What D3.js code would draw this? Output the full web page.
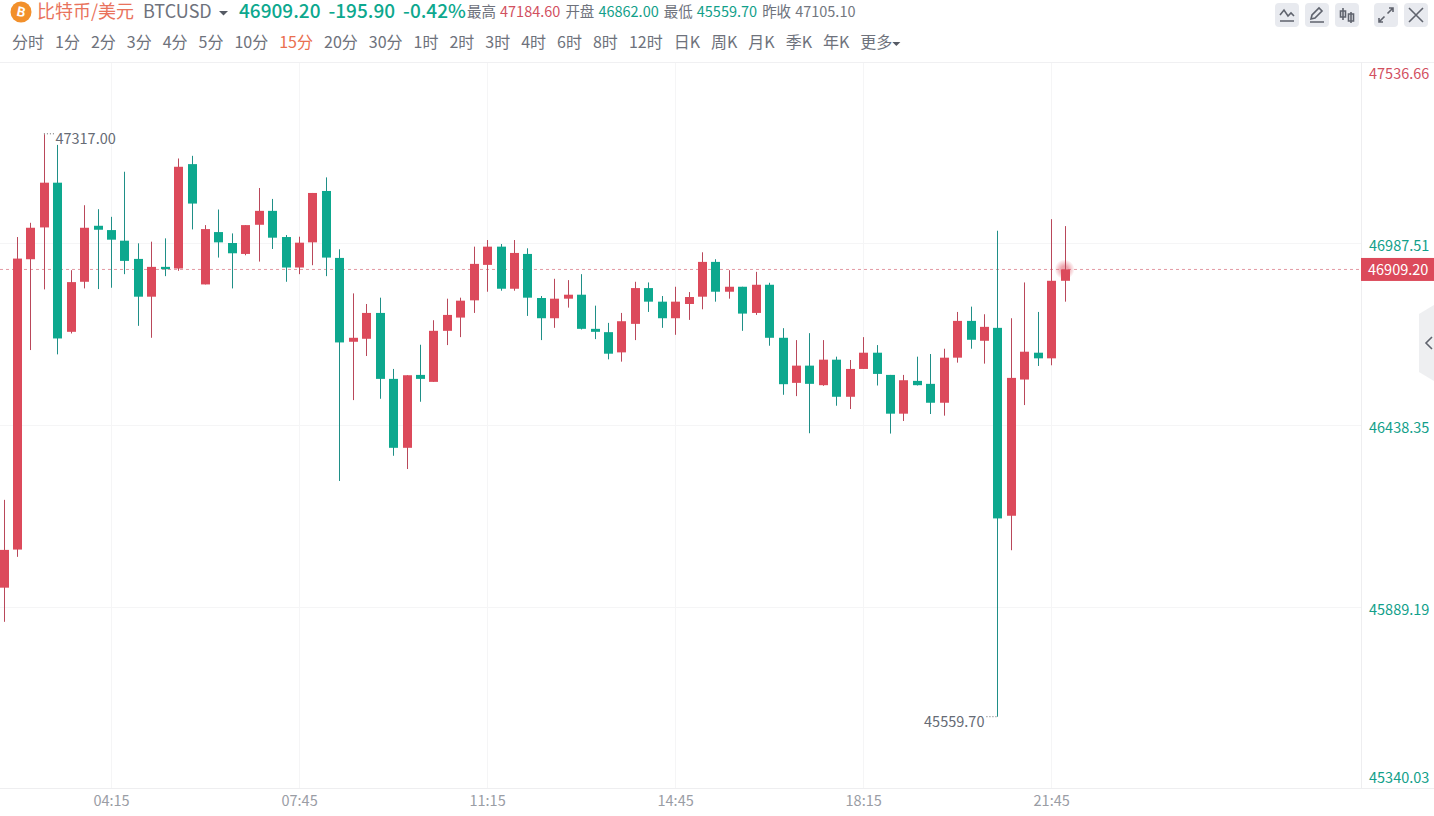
<!DOCTYPE html>
<html>
<head>
<meta charset="utf-8">
<title>BTCUSD</title>
<script src="https://cdn.jsdelivr.net/npm/d3@7"></script>
<style>
html, body { margin: 0; padding: 0; background: #fff; overflow: hidden; }
svg { display: block; }
text { font-family: "Noto Sans CJK SC", "Noto Sans", sans-serif; }
</style>
</head>
<body>
<svg id="chart" width="1434" height="816"></svg>
<script>
// -----------------------------------------------------------------------
// Data
// -----------------------------------------------------------------------
var times = [
    "02:15","02:30","02:45","03:00","03:15","03:30","03:45","04:00","04:15","04:30",
    "04:45","05:00","05:15","05:30","05:45","06:00","06:15","06:30","06:45","07:00",
    "07:15","07:30","07:45","08:00","08:15","08:30","08:45","09:00","09:15","09:30",
    "09:45","10:00","10:15","10:30","10:45","11:00","11:15","11:30","11:45","12:00",
    "12:15","12:30","12:45","13:00","13:15","13:30","13:45","14:00","14:15","14:30",
    "14:45","15:00","15:15","15:30","15:45","16:00","16:15","16:30","16:45","17:00",
    "17:15","17:30","17:45","18:00","18:15","18:30","18:45","19:00","19:15","19:30",
    "19:45","20:00","20:15","20:30","20:45","21:00","21:15","21:30","21:45","22:00"
];
var opens = [
    45949,46064,46940,47036,47171,46721,46872,47041,47028,46996,
    46941,46827,46917,46912,47227,46864,47022,46989,46956,47044,
    47086,47007,46915,46991,47146,46944,46691,46700,46778,46579,
    46371,46591,46570,46724,46764,46816,46923,46978,46851,46956,
    46823,46762,46821,46833,46730,46720,46659,46745,46853,46812,
    46762,46805,46827,46932,46842,46857,46778,46863,46703,46567,
    46619,46560,46637,46525,46609,46658,46591,46474,46573,46564,
    46507,46643,46754,46694,46733,46166,46577,46658,46641,46875
];
var highs = [
    46214,47007,47050,47317,47285,46907,47103,47091,47068,47204,
    46988,46993,47003,47244,47252,47043,47090,47018,47043,47155,
    47122,47013,47008,47140,47187,46970,46837,46805,46824,46609,
    46590,46682,46756,46821,46824,46978,46998,46986,46998,46973,
    46829,46881,46877,46895,46800,46748,46778,46872,46870,46829,
    46857,46841,46961,46940,46907,46857,46902,46869,46732,46696,
    46717,46696,46646,46636,46705,46681,46591,46591,46646,46654,
    46670,46781,46797,46774,47026,46762,46870,46781,47061,47040
];
var lows = [
    45846,46042,46666,46849,46653,46716,46852,46850,46854,46895,
    46739,46703,46889,46905,47030,46864,46945,46852,46952,46933,
    46971,46872,46895,46922,46889,46271,46515,46648,46519,46347,
    46307,46510,46570,46681,46705,46778,46842,46845,46845,46769,
    46696,46733,46794,46728,46699,46638,46631,46696,46781,46733,
    46712,46757,46789,46812,46821,46724,46772,46679,46531,46527,
    46415,46558,46498,46488,46609,46559,46414,46452,46559,46473,
    46468,46628,46670,46625,45559.7,46062,46500,46618,46620,46812
];
var closes = [
    46063,46942,47035,47171,46701,46871,47035,47029,46999,46935,
    46827,46917,46910,47219,47108,47031,46991,46958,47043,47086,
    47005,46915,46990,47140,46945,46689,46703,46778,46579,46371,
    46590,46579,46724,46772,46815,46926,46978,46851,46959,46824,
    46762,46821,46833,46730,46721,46655,46753,46853,46812,46762,
    46812,46826,46932,46842,46857,46776,46863,46703,46563,46619,
    46564,46637,46525,46609,46658,46594,46474,46575,46560,46507,
    46643,46754,46697,46736,46158,46582,46661,46641,46875,46909.2
];

var xTickLabels = ["04:15", "07:45", "11:15", "14:45", "18:15", "21:45"];
var yTickValues = [47536.66, 46987.51, 46438.35, 45889.19, 45340.03];
var lastPrice = 46909.20;
var highMark = 47317.00;
var lowMark = 45559.70;

var periods = ["分时","1分","2分","3分","4分","5分","10分","15分","20分","30分","1时","2时",
               "3时","4时","6时","8时","12时","日K","周K","月K","季K","年K","更多"];
var activePeriod = "15分";
var quoteValues = ["46909.20", "-195.90", "-0.42%"];
var statLabels = ["最高", "开盘", "最低", "昨收"];
var statValues = ["47184.60", "46862.00", "45559.70", "47105.10"];

// -----------------------------------------------------------------------
// Colors + layout
// -----------------------------------------------------------------------
var RED = "#dc4a5b", GREEN = "#0da88e";
var RED_WICK = "#b9485a", GREEN_WICK = "#1f8f87";
var GRID = "#f5f5f6", TEXT_GRAY = "#666b75", AXIS_GRAY = "#9a9da5";

var plotTop = 62, plotBottom = 788, axisX = 1361;

var svg = d3.select("#chart");

var x = d3.scalePoint().domain(times).range([3.6, 1064.6]);
var y = d3.scaleLinear().domain([45340.03, 47536.66]).range([789.5, 61.5]);

// -----------------------------------------------------------------------
// Grid + frame
// -----------------------------------------------------------------------
svg.append("g").selectAll("line").data(yTickValues.slice(1, 4)).enter().append("line")
    .attr("x1", 0).attr("x2", axisX)
    .attr("y1", function(d) { return Math.round(y(d)) + 0.5; })
    .attr("y2", function(d) { return Math.round(y(d)) + 0.5; })
    .attr("stroke", GRID);

svg.append("g").selectAll("line").data(xTickLabels).enter().append("line")
    .attr("x1", function(d) { return Math.round(x(d)) + 0.5; })
    .attr("x2", function(d) { return Math.round(x(d)) + 0.5; })
    .attr("y1", plotTop).attr("y2", plotBottom)
    .attr("stroke", GRID);

svg.append("line").attr("x1", 0).attr("x2", 1434).attr("y1", plotTop + 0.5).attr("y2", plotTop + 0.5).attr("stroke", "#f0f0f2");
svg.append("line").attr("x1", 0).attr("x2", 1434).attr("y1", plotBottom + 0.5).attr("y2", plotBottom + 0.5).attr("stroke", "#eeeef0");
svg.append("line").attr("x1", axisX + 0.5).attr("x2", axisX + 0.5).attr("y1", plotTop).attr("y2", plotBottom).attr("stroke", "#eeeef0");

// -----------------------------------------------------------------------
// Axes
// -----------------------------------------------------------------------
var xAxis = d3.axisBottom(x).tickValues(xTickLabels).tickSize(0).tickPadding(0);
var xg = svg.append("g").attr("transform", "translate(0," + plotBottom + ")").call(xAxis);
xg.select(".domain").remove();
xg.selectAll("text")
    .attr("y", 18).attr("dy", 0)
    .style("font-family", '"Noto Sans CJK SC", sans-serif')
    .style("font-size", "14.5px")
    .attr("fill", AXIS_GRAY);

var yAxis = d3.axisRight(y).tickValues(yTickValues).tickSize(0)
    .tickFormat(function(d) { return d.toFixed(2); });
var yg = svg.append("g").attr("transform", "translate(" + (axisX + 8) + ",0)").call(yAxis);
yg.select(".domain").remove();
yg.selectAll("text")
    .attr("x", 0)
    .attr("dy", function(d, i) {
        // the outer labels are pushed inside the plot
        if (i == 0) return 16.5;
        if (i == yTickValues.length - 1) return -7;
        return 7.5;
    })
    .style("font-family", '"Noto Sans CJK SC", sans-serif')
    .style("font-size", "14.5px")
    .attr("fill", function(d) { return d > lastPrice + 100 ? "#d2505f" : "#12a08a"; });

// -----------------------------------------------------------------------
// Last price line + tag
// -----------------------------------------------------------------------
svg.append("line")
    .attr("x1", 0).attr("x2", axisX)
    .attr("y1", y(lastPrice)).attr("y2", y(lastPrice))
    .attr("stroke", "#e39aa3").attr("stroke-dasharray", "3,3");

var glow = svg.append("defs").append("radialGradient").attr("id", "glow");
glow.append("stop").attr("offset", "35%").attr("stop-color", RED).attr("stop-opacity", 0.5);
glow.append("stop").attr("offset", "100%").attr("stop-color", RED).attr("stop-opacity", 0);
svg.append("circle")
    .attr("cx", x(times[times.length - 1]))
    .attr("cy", y(lastPrice))
    .attr("r", 10).attr("fill", "url(#glow)");

svg.append("rect")
    .attr("x", axisX).attr("y", y(lastPrice) - 11.5)
    .attr("width", 1434 - axisX).attr("height", 23)
    .attr("fill", RED);
svg.append("text")
    .attr("x", axisX + 7).attr("y", y(lastPrice) + 5.5)
    .attr("fill", "#fff").style("font-size", "14.5px")
    .text(lastPrice.toFixed(2));

// -----------------------------------------------------------------------
// Candles
// -----------------------------------------------------------------------
var candles = svg.append("g").selectAll("g").data(times).enter().append("g");

candles.append("line")
    .attr("x1", function(d) { return Math.round(x(d)) + 0.5; })
    .attr("x2", function(d) { return Math.round(x(d)) + 0.5; })
    .attr("y1", function(d, i) { return y(highs[i]); })
    .attr("y2", function(d, i) { return y(lows[i]); })
    .attr("stroke", function(d, i) { return closes[i] >= opens[i] ? RED_WICK : GREEN_WICK; });

candles.append("rect")
    .attr("x", function(d) { return Math.round(x(d)) - 4; })
    .attr("width", 9)
    .attr("y", function(d, i) { return y(Math.max(opens[i], closes[i])); })
    .attr("height", function(d, i) { return Math.max(1, Math.abs(y(opens[i]) - y(closes[i]))); })
    .attr("fill", function(d, i) { return closes[i] >= opens[i] ? RED : GREEN; });

// -----------------------------------------------------------------------
// High / low markers
// -----------------------------------------------------------------------
var highIdx = highs.indexOf(highMark), lowIdx = lows.indexOf(lowMark);

svg.append("line")
    .attr("x1", x(times[highIdx])).attr("x2", x(times[highIdx]) + 10)
    .attr("y1", y(highMark) - 0.5).attr("y2", y(highMark) - 0.5)
    .attr("stroke", "#666").attr("stroke-dasharray", "1,2");
svg.append("text")
    .attr("x", x(times[highIdx]) + 11.5).attr("y", y(highMark) + 10)
    .attr("fill", TEXT_GRAY).style("font-size", "14.5px")
    .text(highMark.toFixed(2));

svg.append("line")
    .attr("x1", x(times[lowIdx]) - 11).attr("x2", x(times[lowIdx]))
    .attr("y1", y(lowMark)).attr("y2", y(lowMark))
    .attr("stroke", "#666").attr("stroke-dasharray", "1,2");
svg.append("text")
    .attr("x", x(times[lowIdx]) - 13).attr("y", y(lowMark) + 10)
    .attr("text-anchor", "end")
    .attr("fill", TEXT_GRAY).style("font-size", "14.5px")
    .text(lowMark.toFixed(2));

// -----------------------------------------------------------------------
// Header
// -----------------------------------------------------------------------
var flowText = function(label, startX, baseY, size, color, weight) {
    var t = svg.append("text")
        .attr("x", startX).attr("y", baseY)
        .attr("fill", color)
        .style("font-size", size + "px")
        .style("font-weight", weight || 400)
        .text(label);
    return startX + t.node().getComputedTextLength();
};

var caret = function(cx, cy, w, color) {
    svg.append("path")
        .attr("d", "M" + (cx - w) + "," + cy + "L" + (cx + w) + "," + cy + "L" + cx + "," + (cy + w) + "Z")
        .attr("fill", color);
};

svg.append("circle").attr("cx", 21).attr("cy", 12).attr("r", 10.5).attr("fill", "#f2902b");
svg.append("text")
    .attr("x", 21).attr("y", 16.5)
    .attr("text-anchor", "middle")
    .attr("transform", "rotate(12,21,12)")
    .attr("fill", "#fff").style("font-size", "13px").style("font-weight", 700)
    .text("B");

flowText("比特币/美元", 37, 18, 18, "#e9735c");
flowText("BTCUSD", 143, 18, 18, "#6e727c");
caret(223.5, 11, 4.5, "#555a64");

var qx = 239;
quoteValues.forEach(function(v) {
    qx = flowText(v, qx, 18, 19, "#0da88e", 500) + 8;
});

var sx = 467;
statLabels.forEach(function(l, i) {
    var vColor = i == 0 ? "#d2505f" : (i == 3 ? "#737780" : "#12a08a");
    sx = flowText(l, sx, 17, 14.5, "#6e727c") + 4;
    sx = flowText(statValues[i], sx, 17, 14.5, vColor) + 5;
});

var px = 12;
periods.forEach(function(p) {
    px = flowText(p, px, 48, 16, p == activePeriod ? "#ea6f4f" : "#6e727c") + 11;
});
caret(px - 7, 42, 4, "#555a64");

// -----------------------------------------------------------------------
// Toolbar buttons
// -----------------------------------------------------------------------
var toolbarIcons = [
    "M-7,6H7 M-7,0L-3,-5L1,1L4,-2L7,1",
    "M-7,7H7 M-6,4L-5,0L2,-7L5,-4L-2,3Z",
    "M-4,-7V5 M4,-3V8 M-6.5,-4H-1.5V2H-6.5Z M1.5,-1H6.5V6H1.5Z",
    "M1.5,-1.5L7,-7 M3,-7H7V-3 M-1.5,1.5L-7,7 M-3,7H-7V3",
    "M-7,-7L7,7 M7,-7L-7,7"
];
var toolbarOffset = [0, 30, 60, 99, 129];
var bars = svg.append("g").selectAll("g").data(toolbarIcons).enter().append("g")
    .attr("transform", function(d, i) { return "translate(" + (1287 + toolbarOffset[i]) + ",15)"; });
bars.append("rect")
    .attr("x", -12).attr("y", -12).attr("width", 24).attr("height", 24).attr("rx", 4)
    .attr("fill", "#e8eaef");
bars.append("path")
    .attr("d", function(d) { return d; })
    .attr("fill", "none")
    .attr("stroke", "#5f636d").attr("stroke-width", 1.6);

// -----------------------------------------------------------------------
// Side tab
// -----------------------------------------------------------------------
svg.append("path")
    .attr("d", "M1434,305L1419,314V372L1434,381Z")
    .attr("fill", "#eeeff1");
svg.append("path")
    .attr("d", "M1432,337L1426,343L1432,349")
    .attr("fill", "none").attr("stroke", "#5f636d").attr("stroke-width", 1.6);
</script>
</body>
</html>
